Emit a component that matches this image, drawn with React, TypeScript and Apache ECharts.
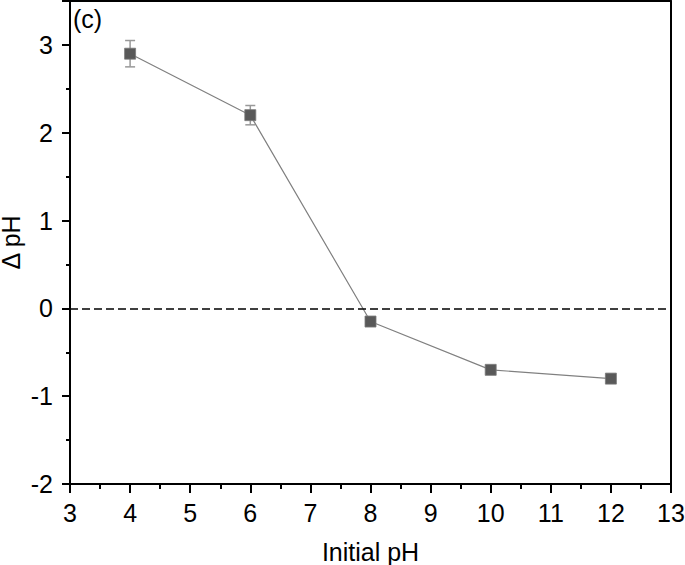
import React, { useEffect, useRef } from "react";
import * as echarts from "echarts";

const initialPH = [4, 6, 8, 10, 12];
const deltaPH = [2.9, 2.2, -0.15, -0.7, -0.8];
const errors = [0.15, 0.11, 0.03, 0.03, 0.03];
const xTicks = [3, 4, 5, 6, 7, 8, 9, 10, 11, 12, 13];
const yTicks = [-2, -1, 0, 1, 2, 3];

const FONT = "'Liberation Sans', Arial, sans-serif";

export default function App() {
  const ref = useRef<HTMLDivElement>(null);
  useEffect(() => {
    document.body.style.margin = "0";
    if (!ref.current) return;
    const chart = echarts.init(ref.current, null, { renderer: "svg" });
    const pts = initialPH.map((x, i) => [x, deltaPH[i]]);
    const errData = initialPH.map((x, i) => [x, deltaPH[i] - errors[i], deltaPH[i] + errors[i]]);
    chart.setOption({
      animation: false,
      backgroundColor: "#fff",
      grid: { left: 70, right: 14, top: 1, bottom: 81, containLabel: false, outerBoundsMode: "none" },
      xAxis: [
        {
          type: "value",
          min: 3,
          max: 13,
          interval: 1,
          name: "Initial pH",
          nameLocation: "middle",
          nameGap: 55,
          nameTextStyle: { fontFamily: FONT, fontSize: 25, color: "#000" },
          axisLine: { show: true, onZero: false, lineStyle: { color: "#000", width: 2 } },
          axisTick: { show: true, inside: false, length: 9, lineStyle: { color: "#000", width: 2 } },
          minorTick: { show: true, splitNumber: 2, length: 5, lineStyle: { color: "#000", width: 2 } },
          axisLabel: {
            fontFamily: FONT,
            fontSize: 25,
            color: "#000",
            margin: 16,
            formatter: (v: number) => (xTicks.includes(v) ? String(v) : ""),
          },
          splitLine: { show: false },
        },
        {
          type: "value",
          position: "top",
          min: 3,
          max: 13,
          axisLine: { show: true, onZero: false, lineStyle: { color: "#000", width: 2 } },
          axisTick: { show: false },
          axisLabel: { show: false },
          splitLine: { show: false },
        },
      ],
      yAxis: [
        {
          type: "value",
          min: -2,
          max: 3.5,
          interval: 1,
          name: "Δ pH",
          nameLocation: "middle",
          nameGap: 50,
          nameMoveOverlap: false,
          nameRotate: 90,
          nameTextStyle: { fontFamily: FONT, fontSize: 25, lineHeight: 19, color: "#000" },
          axisLine: { show: true, onZero: false, lineStyle: { color: "#000", width: 2 } },
          axisTick: { show: true, inside: false, length: 8, lineStyle: { color: "#000", width: 2 } },
          minorTick: { show: true, splitNumber: 2, length: 4, lineStyle: { color: "#000", width: 2 } },
          axisLabel: {
            fontFamily: FONT,
            fontSize: 25,
            color: "#000",
            margin: 17,
            formatter: (v: number) => (yTicks.includes(v) ? String(v) : ""),
          },
          splitLine: { show: false },
        },
        {
          type: "value",
          position: "right",
          min: -2,
          max: 3.5,
          axisLine: { show: true, onZero: false, lineStyle: { color: "#000", width: 2 } },
          axisTick: { show: false },
          axisLabel: { show: false },
          splitLine: { show: false },
        },
      ],
      graphic: [
        {
          type: "text",
          left: 73,
          top: 6,
          style: { text: "(c)", fontFamily: FONT, fontSize: 25, fill: "#000" },
        },
      ],
      series: [
        {
          type: "custom",
          renderItem: (params: any, api: any) => {
            const x = api.value(0);
            const lo = api.coord([x, api.value(1)]);
            const hi = api.coord([x, api.value(2)]);
            const w = 5;
            const style = { stroke: "#999", lineWidth: 1.5 };
            return {
              type: "group",
              children: [
                { type: "line", shape: { x1: lo[0], y1: lo[1], x2: hi[0], y2: hi[1] }, style },
                { type: "line", shape: { x1: lo[0] - w, y1: lo[1], x2: lo[0] + w, y2: lo[1] }, style },
                { type: "line", shape: { x1: hi[0] - w, y1: hi[1], x2: hi[0] + w, y2: hi[1] }, style },
              ],
            };
          },
          data: errData,
          z: 1,
        },
        {
          type: "line",
          data: pts,
          symbol: "rect",
          symbolSize: 11,
          itemStyle: { color: "#595959", borderColor: "#7a7a7a", borderWidth: 0.8 },
          lineStyle: { color: "#808080", width: 1.2 },
          z: 3,
          markLine: {
            silent: true,
            symbol: "none",
            label: { show: false },
            lineStyle: { color: "#000", type: [8, 4], width: 1.5 },
            data: [{ yAxis: 0 }],
          },
        },
      ],
    });
    return () => chart.dispose();
  }, []);
  return <div ref={ref} style={{ width: 685, height: 565 }} />;
}
